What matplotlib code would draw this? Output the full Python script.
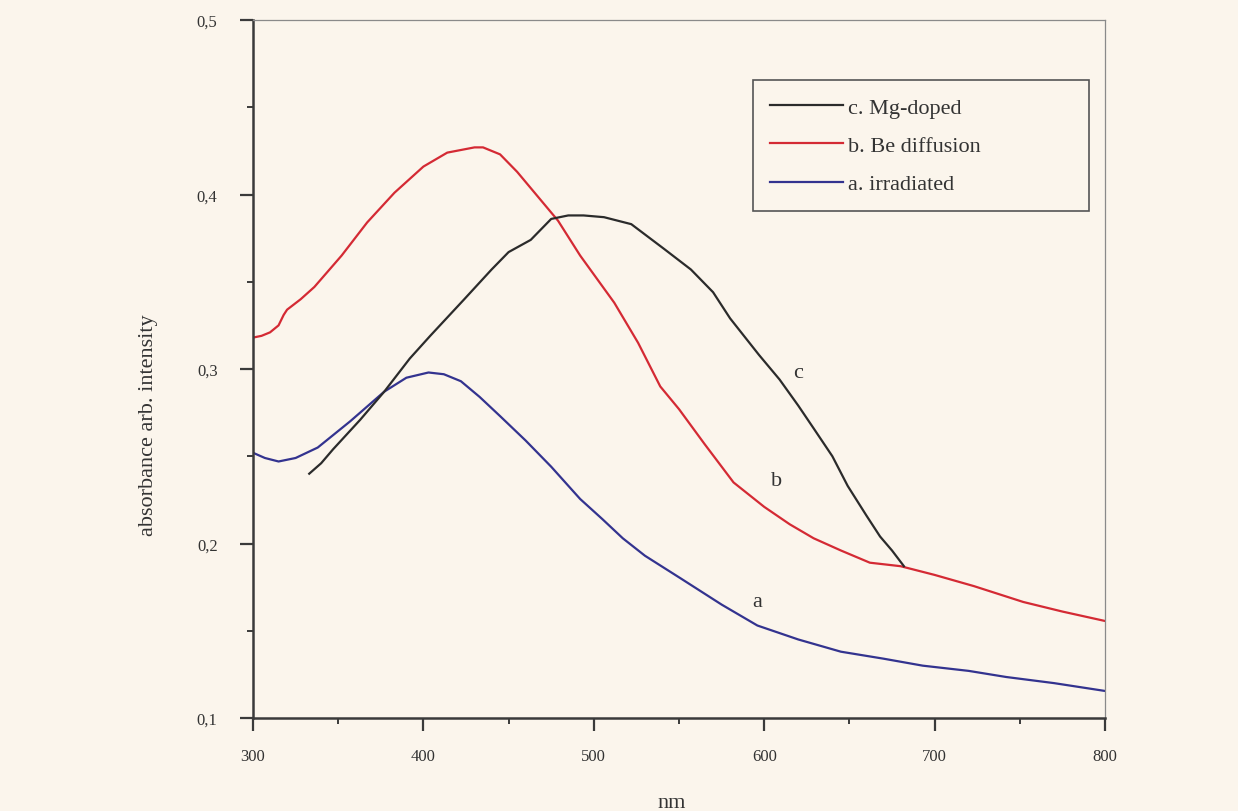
import numpy as np
import matplotlib
matplotlib.use("Agg")
import matplotlib.pyplot as plt
from matplotlib.ticker import MultipleLocator, FuncFormatter

# values (wavelength nm, absorbance)
x_a = [300, 307, 315, 325, 338, 357, 377, 390, 403, 412, 422, 433, 445, 460, 475,
       492, 505, 517, 530, 551, 575, 596, 620, 645, 670, 693, 720, 742, 770, 800]
y_a = [0.252, 0.249, 0.247, 0.249, 0.255, 0.270, 0.287, 0.295, 0.298, 0.297, 0.293,
       0.284, 0.273, 0.259, 0.244, 0.2255, 0.214, 0.203, 0.193, 0.180, 0.165, 0.153,
       0.145, 0.138, 0.134, 0.130, 0.127, 0.1235, 0.120, 0.1155]

x_b = [300, 305, 310, 315, 318, 320, 328, 336, 352, 367, 383, 400, 414, 430, 435,
       445, 455, 467, 479, 492, 512, 526, 539, 550, 565, 582, 600, 615, 629, 645, 662,
       680, 700, 723, 752, 775, 800]
y_b = [0.318, 0.319, 0.321, 0.325, 0.331, 0.334, 0.340, 0.347, 0.365, 0.384, 0.401,
       0.416, 0.424, 0.427, 0.427, 0.423, 0.413, 0.399, 0.385, 0.365, 0.338, 0.315,
       0.290, 0.277, 0.257, 0.235, 0.221, 0.211, 0.203, 0.196, 0.189, 0.187, 0.182,
       0.1756, 0.1665, 0.161, 0.1556]

x_c = [333, 340, 347, 363, 377, 392, 404, 424, 440, 450, 463, 475, 485, 494, 506,
       522, 541, 557, 570, 580, 597, 609, 620, 629, 640, 649, 660, 668, 675, 682]
y_c = [0.240, 0.246, 0.254, 0.271, 0.287, 0.306, 0.319, 0.340, 0.357, 0.367, 0.374,
       0.386, 0.388, 0.388, 0.387, 0.383, 0.369, 0.357, 0.344, 0.329, 0.308, 0.294,
       0.279, 0.266, 0.250, 0.233, 0.216, 0.204, 0.196, 0.187]

xticks = [300, 400, 500, 600, 700, 800]
yticks = [0.1, 0.2, 0.3, 0.4, 0.5]

bg = "#fbf5ec"
plt.rcParams['font.family'] = ['Liberation Serif', 'DejaVu Serif']

fig = plt.figure(figsize=(12.38, 8.12), dpi=100, facecolor=bg)
ax = fig.add_axes([253 / 1238, 1 - 719 / 812, 852 / 1238, 698 / 812])
ax.set_facecolor(bg)

la, = ax.plot(x_a, y_a, color="#33338f", lw=1.6, label="a. irradiated")
lb, = ax.plot(x_b, y_b, color="#d42a34", lw=1.6, label="b. Be diffusion")
lc, = ax.plot(x_c, y_c, color="#2b2b2b", lw=1.6, label="c. Mg-doped")

ax.set_xlim(300, 800)
ax.set_ylim(0.1, 0.5)
ax.set_xticks(xticks)
ax.set_yticks(yticks)
ax.xaxis.set_minor_locator(MultipleLocator(50))
ax.yaxis.set_minor_locator(MultipleLocator(0.05))
ax.yaxis.set_major_formatter(FuncFormatter(lambda v, p: ("%.1f" % v).replace(".", ",")))

for s in ["left", "bottom"]:
    ax.spines[s].set_linewidth(1.8)
    ax.spines[s].set_color("#3a3a3a")
for s in ["top", "right"]:
    ax.spines[s].set_linewidth(0.9)
    ax.spines[s].set_color("#8a8a8a")

ax.tick_params(which="major", direction="out", length=9.5, width=1.6, color="#3a3a3a",
               labelsize=12, labelcolor="#333333")
ax.tick_params(axis="y", which="major", pad=16)
ax.tick_params(axis="x", which="major", pad=12)
ax.tick_params(which="minor", direction="out", length=4.5, width=1.4, color="#3a3a3a")

ax.set_ylabel("absorbance arb. intensity", fontsize=16, color="#333333")
ax.yaxis.set_label_coords(-0.111, 0.421)
fig.text(672 / 1238, 4 / 812, "nm", fontsize=16, color="#333333", ha="center", va="baseline")

ax.text(620, 0.298, "c", fontsize=16, color="#333333", ha="center", va="center")
ax.text(607, 0.236, "b", fontsize=16, color="#333333", ha="center", va="center")
ax.text(596, 0.167, "a", fontsize=16, color="#333333", ha="center", va="center")

leg = ax.legend(handles=[lc, lb, la], loc="upper left", mode="expand",
                bbox_to_anchor=(753 / 1238, 1 - 216 / 812, 336 / 1238, 135 / 812),
                bbox_transform=fig.transFigure,
                fontsize=16, frameon=True, fancybox=False, handlelength=3.3,
                handletextpad=0.22, labelspacing=0.8, borderpad=0.77, borderaxespad=0)
leg.get_frame().set_edgecolor("#555555")
leg.get_frame().set_linewidth(1.2)
leg.get_frame().set_facecolor(bg)
leg.get_frame().set_alpha(1)
for t in leg.get_texts():
    t.set_color("#333333")

fig.savefig("out.png", dpi=100, facecolor=bg)
